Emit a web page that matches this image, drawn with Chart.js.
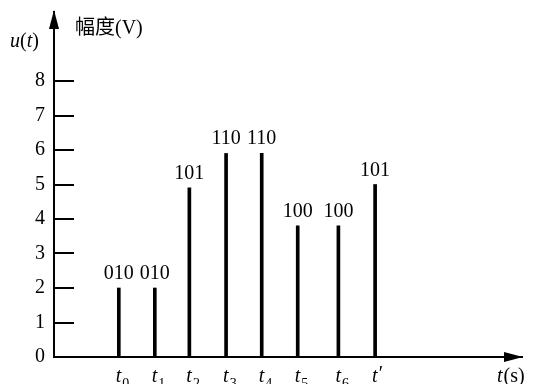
<!DOCTYPE html>
<html>
<head>
<meta charset="utf-8">
<script src="https://cdn.jsdelivr.net/npm/chart.js@4/dist/chart.umd.min.js"></script>
<style>
html, body { margin: 0; padding: 0; background: #fff; }
</style>
</head>
<body>
<canvas id="myChart" width="534" height="384"></canvas>
<script>
// sample instants (subscripts), their times on the axis, amplitudes and codes
const tNames = ["0", "1", "2", "3", "4", "5", "6", "'"];
const tTimes = [1.8, 2.8, 3.76, 4.78, 5.77, 6.77, 7.9, 8.92];
const amplitudes = [2, 2, 4.9, 5.9, 5.9, 3.8, 3.8, 5.0];
const codes = ["010", "010", "101", "110", "110", "100", "100", "101"];
const yTicks = [0, 1, 2, 3, 4, 5, 6, 7, 8];

const serif = "'Liberation Serif', 'Times New Roman', serif";

// short ticks, arrows, code labels and axis names
const deco = {
    id: "deco",
    afterDraw: function (chart) {
        const ctx = chart.ctx;
        const area = chart.chartArea;
        const yScale = chart.scales.y;
        ctx.save();
        ctx.strokeStyle = "#000";
        ctx.fillStyle = "#000";

        // inward tick marks on the y axis
        ctx.lineWidth = 2;
        yTicks.forEach(function (v) {
            if (v == 0) return;
            let y = Math.round(yScale.getPixelForValue(v));
            ctx.beginPath();
            ctx.moveTo(area.left, y);
            ctx.lineTo(area.left + 20, y);
            ctx.stroke();
        });

        // arrow heads
        ctx.beginPath();
        ctx.moveTo(area.left, area.top - 2);
        ctx.lineTo(area.left - 5, area.top + 17);
        ctx.lineTo(area.left + 5, area.top + 17);
        ctx.closePath();
        ctx.fill();
        ctx.beginPath();
        ctx.moveTo(area.right + 1, area.bottom);
        ctx.lineTo(area.right - 18, area.bottom - 5);
        ctx.lineTo(area.right - 18, area.bottom + 5);
        ctx.closePath();
        ctx.fill();

        // codes above the stems
        let meta = chart.getDatasetMeta(0);
        ctx.font = "20px " + serif;
        ctx.textAlign = "center";
        ctx.textBaseline = "alphabetic";
        meta.data.forEach(function (bar, i) {
            ctx.fillText(codes[i], bar.x, bar.y - 9);
        });

        // t labels under the stems
        ctx.textAlign = "left";
        meta.data.forEach(function (bar, i) {
            let x = bar.x - 3;
            ctx.font = "italic 20px " + serif;
            ctx.fillText("t", x, 382);
            let w = ctx.measureText("t").width;
            if (tNames[i] == "'") {
                ctx.font = "20px " + serif;
                ctx.fillText("\u2032", x + w + 1, 380);
            } else {
                ctx.font = "14px " + serif;
                ctx.fillText(tNames[i], x + w + 1, 388);
            }
        });

        // axis names
        ctx.font = "italic 20px " + serif;
        ctx.fillText("t", 497, 382);
        let tw = ctx.measureText("t").width;
        ctx.font = "20px " + serif;
        ctx.fillText("(s)", 497 + tw + 1, 382);

        let x = 10;
        ctx.font = "italic 20px " + serif;
        ctx.fillText("u", x, 47);
        x += ctx.measureText("u").width;
        ctx.font = "20px " + serif;
        ctx.fillText("(", x, 47);
        x += ctx.measureText("(").width;
        ctx.font = "italic 20px " + serif;
        ctx.fillText("t", x, 47);
        x += ctx.measureText("t").width;
        ctx.font = "20px " + serif;
        ctx.fillText(")", x, 47);

        ctx.font = "20px 'Noto Sans CJK SC'";
        ctx.fillText("幅度", 75, 34);
        let cw = ctx.measureText("幅度").width;
        ctx.font = "20px " + serif;
        ctx.fillText("(V)", 75 + cw, 34);

        ctx.restore();
    }
};

const ctx = document.getElementById("myChart").getContext("2d");
const points = [];
for (let i = 0; i < tTimes.length; i++) {
    points.push({ x: tTimes[i], y: amplitudes[i] });
}

const myChart = new Chart(ctx, {
    type: "bar",
    data: {
        datasets: [{
            data: points,
            backgroundColor: "#000",
            borderWidth: 0,
            barThickness: 3
        }]
    },
    options: {
        responsive: false,
        animation: false,
        layout: { padding: { top: 12, right: 12, left: 0, bottom: 0 } },
        plugins: {
            legend: { display: false },
            tooltip: { enabled: false }
        },
        scales: {
            x: {
                type: "linear",
                min: 0,
                max: 13,
                offset: false,
                grid: { display: true, drawOnChartArea: false, drawTicks: false, offset: false },
                border: { display: true, color: "#000", width: 2 },
                ticks: { display: false },
                afterFit: function (s) {
                    s.height = 27;
                    s.paddingLeft = 0;
                    s.paddingRight = 0;
                }
            },
            y: {
                min: 0,
                max: 10,
                grid: { display: true, drawOnChartArea: false, drawTicks: false },
                border: { display: true, color: "#000", width: 2 },
                afterBuildTicks: function (s) {
                    s.ticks = yTicks.map(function (v) { return { value: v }; });
                },
                ticks: {
                    color: "#000",
                    padding: 9,
                    font: { family: serif, size: 20 }
                },
                afterFit: function (s) {
                    s.width = 54;
                    s.paddingTop = 0;
                    s.paddingBottom = 0;
                }
            }
        }
    },
    plugins: [deco]
});
</script>
</body>
</html>
